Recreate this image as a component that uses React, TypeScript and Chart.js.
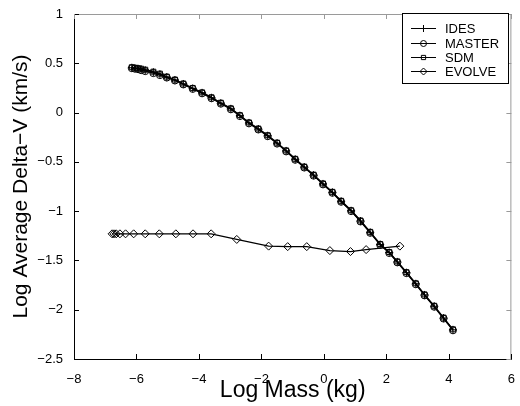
import React, { useEffect, useRef } from "react";
import { Chart, registerables } from "chart.js";
import { drawPoint } from "chart.js/helpers";

Chart.register(...registerables);

const FONT = "'Liberation Sans', Arial, Helvetica, sans-serif";

const xTicks = [-8, -6, -4, -2, 0, 2, 4, 6];
const yTicks = [-2.5, -2, -1.5, -1, -0.5, 0, 0.5, 1];

const idesX = [-6.15, -6.05, -5.95, -5.85, -5.72, -5.46, -5.25, -5.03, -4.77, -4.5, -4.2, -3.9, -3.6, -3.3, -2.98, -2.69, -2.4, -2.1, -1.8, -1.5, -1.21, -0.92, -0.63, -0.33, -0.03, 0.27, 0.55, 0.87, 1.17, 1.48, 1.8, 2.09, 2.35, 2.64, 2.94, 3.22, 3.53, 3.83, 4.13];
const idesY = [0.455, 0.45, 0.445, 0.44, 0.43, 0.41, 0.39, 0.36, 0.33, 0.29, 0.245, 0.2, 0.15, 0.095, 0.038, -0.031, -0.105, -0.167, -0.235, -0.31, -0.389, -0.474, -0.553, -0.635, -0.724, -0.809, -0.9, -0.996, -1.1, -1.215, -1.338, -1.42, -1.515, -1.624, -1.737, -1.85, -1.965, -2.085, -2.204];

const masterX = [-6.15, -6.05, -5.95, -5.85, -5.72, -5.46, -5.25, -5.03, -4.77, -4.5, -4.2, -3.9, -3.6, -3.3, -2.98, -2.69, -2.4, -2.1, -1.8, -1.5, -1.21, -0.92, -0.63, -0.33, -0.03, 0.27, 0.55, 0.87, 1.17, 1.48, 1.8, 2.09, 2.35, 2.64, 2.94, 3.22, 3.53, 3.83, 4.13];
const masterY = [0.45, 0.445, 0.44, 0.43, 0.42, 0.4, 0.38, 0.355, 0.325, 0.285, 0.24, 0.195, 0.145, 0.09, 0.033, -0.036, -0.11, -0.172, -0.24, -0.315, -0.394, -0.479, -0.558, -0.64, -0.729, -0.814, -0.905, -1.0, -1.105, -1.22, -1.343, -1.425, -1.52, -1.629, -1.742, -1.855, -1.97, -2.09, -2.209];

const sdmX = [-6.15, -6.05, -5.95, -5.85, -5.72, -5.46, -5.25, -5.03, -4.77, -4.5, -4.2, -3.9, -3.6, -3.3, -2.98, -2.69, -2.4, -2.1, -1.8, -1.5, -1.21, -0.92, -0.63, -0.33, -0.03, 0.27, 0.55, 0.87, 1.17, 1.48, 1.8, 2.09, 2.35, 2.64, 2.94, 3.22, 3.53, 3.83, 4.13];
const sdmY = [0.46, 0.455, 0.45, 0.445, 0.435, 0.415, 0.395, 0.365, 0.335, 0.295, 0.25, 0.205, 0.155, 0.1, 0.043, -0.026, -0.1, -0.162, -0.23, -0.305, -0.384, -0.469, -0.548, -0.63, -0.719, -0.804, -0.895, -0.991, -1.095, -1.21, -1.333, -1.415, -1.51, -1.619, -1.732, -1.845, -1.96, -2.08, -2.199];

const evolveX = [-6.78, -6.72, -6.65, -6.53, -6.35, -6.09, -5.72, -5.27, -4.74, -4.19, -3.61, -2.79, -1.77, -1.16, -0.55, 0.19, 0.85, 1.35, 2.43];
const evolveY = [-1.23, -1.23, -1.23, -1.23, -1.23, -1.23, -1.23, -1.23, -1.23, -1.23, -1.23, -1.287, -1.355, -1.36, -1.36, -1.4, -1.41, -1.39, -1.355];

const seriesNames = ["IDES", "MASTER", "SDM", "EVOLVE"];
const seriesStyles = ["cross", "circle", "rect", "rectRot"];
const seriesRadius = [4, 3.5, 3.5, 4];

const toPts = (xs: number[], ys: number[]) => xs.map((x, i) => ({ x, y: ys[i] }));
const fmt = (v: number) => String(v).replace("-", "\u2212");

const inwardTicks = {
  id: "inwardTicks",
  afterDraw(chart: any) {
    const { ctx, chartArea: a, scales } = chart;
    const L = 5;
    ctx.save();
    ctx.lineWidth = 1;
    ctx.strokeStyle = "#9a9a9a";
    ctx.beginPath();
    ctx.moveTo(a.left, a.top + 0.5);
    ctx.lineTo(a.right - 0.5, a.top + 0.5);
    ctx.lineTo(a.right - 0.5, a.bottom);
    ctx.stroke();
    ctx.strokeStyle = "#000";
    ctx.beginPath();
    xTicks.forEach((v) => {
      const px = Math.round(scales.x.getPixelForValue(v)) + 0.5;
      ctx.moveTo(px, a.bottom);
      ctx.lineTo(px, a.bottom - L);
    });
    yTicks.forEach((v) => {
      const py = Math.round(scales.y.getPixelForValue(v)) + 0.5;
      ctx.moveTo(a.left, py);
      ctx.lineTo(a.left + L, py);
    });
    ctx.stroke();
    ctx.strokeStyle = "#9a9a9a";
    ctx.beginPath();
    xTicks.forEach((v) => {
      const px = Math.round(scales.x.getPixelForValue(v)) + 0.5;
      ctx.moveTo(px, a.top);
      ctx.lineTo(px, a.top + L);
    });
    yTicks.forEach((v) => {
      const py = Math.round(scales.y.getPixelForValue(v)) + 0.5;
      ctx.moveTo(a.right, py);
      ctx.lineTo(a.right - L, py);
    });
    ctx.stroke();

    // legend
    const bx = 402, by = 13, bw = 106, bh = 70;
    ctx.fillStyle = "#fff";
    ctx.fillRect(bx, by, bw, bh);
    ctx.strokeStyle = "#000";
    ctx.strokeRect(bx + 0.5, by + 0.5, bw, bh);
    const rows = [28, 43, 57, 71];
    ctx.font = `13px ${FONT}`;
    ctx.textBaseline = "middle";
    ctx.textAlign = "left";
    seriesNames.forEach((name, i) => {
      const y = rows[i] + 0.5;
      ctx.strokeStyle = "#000";
      ctx.lineWidth = 1;
      ctx.beginPath();
      ctx.moveTo(411, y);
      ctx.lineTo(436, y);
      ctx.stroke();
      ctx.fillStyle = "rgba(0,0,0,0)";
      drawPoint(ctx, { pointStyle: seriesStyles[i], radius: seriesRadius[i] - 0.5, rotation: 0, borderWidth: 1 } as any, 423.5, y);
      ctx.fillStyle = "#000";
      ctx.fillText(name, 445, rows[i] + 1);
    });
    ctx.restore();
  },
};

export default function App() {
  const ref = useRef<HTMLCanvasElement>(null);
  useEffect(() => {
    document.body.style.margin = "0";
    const datasets = [toPts(idesX, idesY), toPts(masterX, masterY), toPts(sdmX, sdmY), toPts(evolveX, evolveY)].map((d, i) => ({
      label: seriesNames[i],
      data: d,
      showLine: true,
      borderColor: "#000",
      borderWidth: 1.2,
      pointStyle: seriesStyles[i],
      pointRadius: seriesRadius[i],
      pointBorderColor: "#000",
      pointBackgroundColor: "rgba(0,0,0,0)",
      pointBorderWidth: 1,
    }));
    const chart = new Chart(ref.current!, {
      type: "scatter",
      data: { datasets },
      options: {
        animation: false,
        responsive: false,
        devicePixelRatio: 1,
        layout: { padding: { top: 14, right: 5, left: 0, bottom: 0 } },
        plugins: { legend: { display: false }, tooltip: { enabled: false } },
        scales: {
          x: {
            type: "linear",
            min: -8,
            max: 6,
            afterBuildTicks: (s: any) => { s.ticks = xTicks.map((v) => ({ value: v })); },
            afterFit: (s: any) => { s.height = 47; },
            ticks: { callback: (v: any) => fmt(v), font: { size: 13, family: FONT }, color: "#000", padding: 5, maxRotation: 0 },
            grid: { display: false },
            border: { display: true, color: "#000", width: 1 },
            title: { display: true, text: "Log Mass (kg)", font: { size: 23, family: FONT }, color: "#000", padding: { top: 0, bottom: 2 } },
          },
          y: {
            type: "linear",
            min: -2.5,
            max: 1,
            afterBuildTicks: (s: any) => { s.ticks = yTicks.map((v) => ({ value: v })); },
            afterFit: (s: any) => { s.width = 74; },
            ticks: { callback: (v: any) => fmt(v), font: { size: 13, family: FONT }, color: "#000", padding: 3 },
            grid: { display: false },
            border: { display: true, color: "#000", width: 1 },
            title: { display: true, text: "Log Average Delta\u2212V (km/s)", font: { size: 21, family: FONT }, color: "#000", padding: { top: 9, bottom: 0 } },
          },
        },
      },
      plugins: [inwardTicks],
    });
    return () => chart.destroy();
  }, []);
  return <canvas ref={ref} width={520} height={406} style={{ position: "absolute", left: 0, top: 0 }} />;
}
